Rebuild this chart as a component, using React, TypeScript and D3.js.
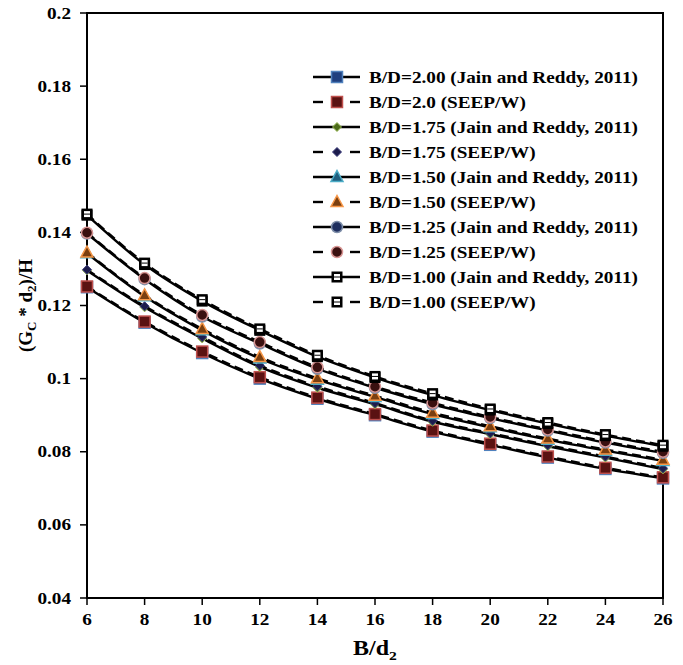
import React from "react";
import * as d3 from "d3";

const xValues = [6, 8, 10, 12, 14, 16, 18, 20, 22, 24, 26];

const jain200 = [0.125, 0.1153, 0.107, 0.1, 0.0945, 0.09, 0.0855, 0.0819, 0.0784, 0.0753, 0.0727];
const seep200 = [0.1252, 0.1156, 0.1074, 0.1004, 0.0948, 0.0903, 0.0858, 0.0822, 0.0787, 0.0756, 0.073];
const jain175 = [0.1296, 0.1195, 0.111, 0.1032, 0.0975, 0.093, 0.0882, 0.0848, 0.0815, 0.0784, 0.0752];
const seep175 = [0.1298, 0.1198, 0.1114, 0.1036, 0.0979, 0.0933, 0.0885, 0.0851, 0.0818, 0.0787, 0.0755];
const jain150 = [0.1343, 0.1225, 0.1132, 0.1055, 0.0997, 0.095, 0.0903, 0.0867, 0.0833, 0.0803, 0.0775];
const seep150 = [0.1345, 0.1228, 0.1136, 0.1059, 0.1001, 0.0953, 0.0907, 0.087, 0.0836, 0.0806, 0.0778];
const jain125 = [0.1397, 0.1272, 0.117, 0.1096, 0.1027, 0.0975, 0.093, 0.0892, 0.0858, 0.0825, 0.0797];
const seep125 = [0.1399, 0.1275, 0.1174, 0.11, 0.1031, 0.0978, 0.0934, 0.0895, 0.0861, 0.0828, 0.08];
const jain100 = [0.1447, 0.1312, 0.1212, 0.1132, 0.106, 0.1003, 0.0955, 0.0914, 0.0877, 0.0844, 0.0815];
const seep100 = [0.145, 0.1316, 0.1216, 0.1136, 0.1064, 0.1006, 0.0959, 0.0917, 0.088, 0.0847, 0.0818];

const xTicks = [6, 8, 10, 12, 14, 16, 18, 20, 22, 24, 26];
const yTicks = [0.04, 0.06, 0.08, 0.1, 0.12, 0.14, 0.16, 0.18, 0.2];

const legendLabels = [
  "B/D=2.00 (Jain and Reddy, 2011)",
  "B/D=2.0 (SEEP/W)",
  "B/D=1.75 (Jain and Reddy, 2011)",
  "B/D=1.75 (SEEP/W)",
  "B/D=1.50 (Jain and Reddy, 2011)",
  "B/D=1.50 (SEEP/W)",
  "B/D=1.25 (Jain and Reddy, 2011)",
  "B/D=1.25 (SEEP/W)",
  "B/D=1.00 (Jain and Reddy, 2011)",
  "B/D=1.00 (SEEP/W)",
];

type Marker = { shape: string; fill: string; stroke: string };
const seriesValues = [jain200, seep200, jain175, seep175, jain150, seep150, jain125, seep125, jain100, seep100];
const seriesDashed = [false, true, false, true, false, true, false, true, false, true];
const seriesMarkers: Marker[] = [
  { shape: "square", fill: "#1f3f7f", stroke: "#4f81bd" },
  { shape: "square", fill: "#5a1212", stroke: "#c0504d" },
  { shape: "diamond", fill: "#4d6b1a", stroke: "#9bbb59" },
  { shape: "diamond", fill: "#1c1c4c", stroke: "#3a3a7a" },
  { shape: "triangle", fill: "#1f5f7f", stroke: "#4bacc6" },
  { shape: "triangle", fill: "#7a3f10", stroke: "#f79646" },
  { shape: "circle", fill: "#1f2f5f", stroke: "#7f8fa9" },
  { shape: "circle", fill: "#3a1010", stroke: "#d99694" },
  { shape: "opensquare", fill: "#ffffff", stroke: "#000000" },
  { shape: "opensquare", fill: "#ffffff", stroke: "#000000" },
];

const FONT = "'Liberation Serif', 'Times New Roman', serif";
const SX = 1.2;

function MarkerShape({ m, x, y }: { m: Marker; x: number; y: number }) {
  const s = 5.5;
  if (m.shape === "square")
    return <rect x={x - s} y={y - s} width={2 * s} height={2 * s} fill={m.fill} stroke={m.stroke} strokeWidth={1.5} />;
  if (m.shape === "opensquare")
    return (
      <g>
        <rect x={x - s} y={y - s} width={2 * s} height={2 * s} fill="#000" />
        <rect x={x - 3} y={y - 3} width={6} height={6} fill="#fff" />
        <line x1={x - 3} x2={x + 3} y1={y} y2={y} stroke="#000" strokeWidth={1} />
      </g>
    );
  if (m.shape === "circle") return <circle cx={x} cy={y} r={5.5} fill={m.fill} stroke={m.stroke} strokeWidth={1.5} />;
  if (m.shape === "diamond")
    return (
      <path d={`M${x},${y - 4.5}L${x + 4.5},${y}L${x},${y + 4.5}L${x - 4.5},${y}Z`} fill={m.fill} stroke={m.stroke} strokeWidth={1} />
    );
  return (
    <path d={`M${x},${y - 6.5}L${x + 6},${y + 4.5}L${x - 6},${y + 4.5}Z`} fill={m.fill} stroke={m.stroke} strokeWidth={1.5} />
  );
}

function SText({ x, y, anchor, size, children }: any) {
  return (
    <g transform={`translate(${x},${y}) scale(${SX},1)`}>
      <text x={0} y={0} textAnchor={anchor || "start"} fontFamily={FONT} fontWeight="bold" fontSize={size}>
        {children}
      </text>
    </g>
  );
}

export default function App() {
  const width = 683;
  const height = 665;
  const left = 87,
    right = 663,
    top = 13,
    bottom = 598;
  const x = d3.scaleLinear().domain([6, 26]).range([left, right]);
  const y = d3.scaleLinear().domain([0.04, 0.2]).range([bottom, top]);
  const line = d3
    .line<number>()
    .x((_, i) => x(xValues[i]))
    .y((d) => y(d))
    .curve(d3.curveMonotoneX);

  const legX = 313,
    legY = 77,
    legStep = 25;

  return (
    <svg width={width} height={height} style={{ position: "absolute", left: 0, top: 0, background: "#fff" }}>
      <rect x={0} y={0} width={width} height={height} fill="#fff" />
      <rect x={left} y={top} width={right - left} height={bottom - top} fill="none" stroke="#000" strokeWidth={2} />
      {yTicks.map((t) => (
        <g key={"y" + t}>
          <line x1={left - 7} x2={left} y1={y(t)} y2={y(t)} stroke="#000" strokeWidth={1.5} />
          <SText x={71} y={y(t) + 5.5} anchor="end" size={16}>
            {String(t)}
          </SText>
        </g>
      ))}
      {xTicks.map((t) => (
        <g key={"x" + t}>
          <line x1={x(t)} x2={x(t)} y1={bottom} y2={bottom + 7} stroke="#000" strokeWidth={1.5} />
          <SText x={x(t)} y={bottom + 27} anchor="middle" size={16}>
            {t}
          </SText>
        </g>
      ))}
      {seriesValues.map((vals, si) => (
        <g key={"s" + si}>
          <path
            d={line(vals) || ""}
            fill="none"
            stroke="#000"
            strokeWidth={2.4}
            strokeDasharray={seriesDashed[si] ? "9,5" : undefined}
          />
          {vals.map((v, i) => (
            <MarkerShape key={i} m={seriesMarkers[si]} x={x(xValues[i])} y={y(v)} />
          ))}
        </g>
      ))}
      {legendLabels.map((lab, i) => {
        const yy = legY + i * legStep;
        return (
          <g key={"l" + i}>
            {seriesDashed[i] ? (
              <g>
                <line x1={legX} x2={legX + 10} y1={yy} y2={yy} stroke="#000" strokeWidth={2.4} />
                <line x1={legX + 37} x2={legX + 47} y1={yy} y2={yy} stroke="#000" strokeWidth={2.4} />
              </g>
            ) : (
              <line x1={legX} x2={legX + 47} y1={yy} y2={yy} stroke="#000" strokeWidth={2.4} />
            )}
            <MarkerShape m={seriesMarkers[i]} x={legX + 24} y={yy} />
            <SText x={legX + 56} y={yy + 5.5} size={16}>
              {lab}
            </SText>
          </g>
        );
      })}
      <SText x={(left + right) / 2} y={655} anchor="middle" size={20}>
        B/d<tspan fontSize={13} dy={5}>2</tspan>
      </SText>
      <text
        transform={`translate(32,${(top + bottom) / 2}) rotate(-90)`}
        textAnchor="middle"
        fontFamily={FONT}
        fontWeight="bold"
        fontSize={19}
      >
        (G<tspan fontSize={13} dy={4}>C</tspan>
        <tspan dy={-4}> * d</tspan>
        <tspan fontSize={13} dy={4}>2</tspan>
        <tspan dy={-4}>)/H</tspan>
      </text>
    </svg>
  );
}
